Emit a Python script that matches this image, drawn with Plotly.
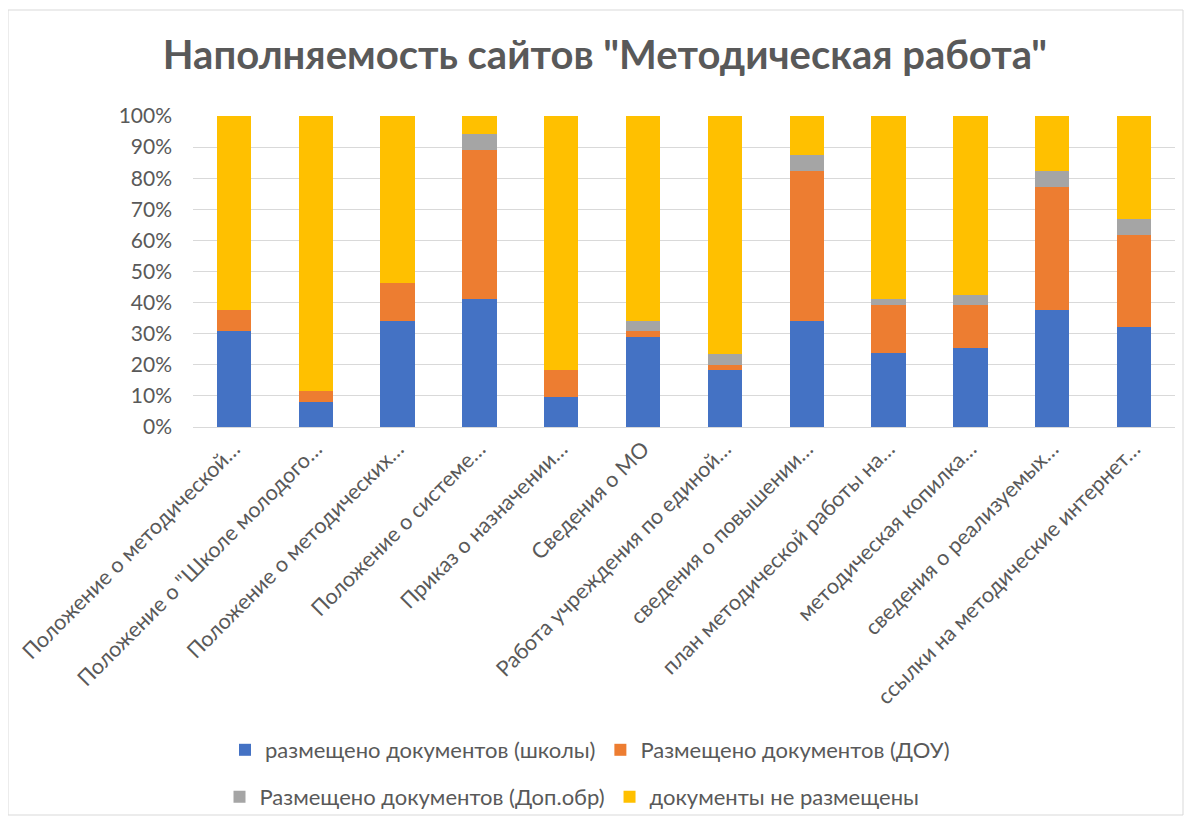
import plotly.graph_objects as go

categories = [
    "Положение о методической…",
    "Положение о \"Школе молодого…",
    "Положение о методических…",
    "Положение о системе…",
    "Приказ о назначении…",
    "Сведения о МО",
    "Работа учреждения по единой…",
    "сведения о повышении…",
    "план методической работы на…",
    "методическая копилка…",
    "сведения о реализуемых…",
    "ссылки на методические интернет…",
]

schools = [31.0, 8.1, 34.0, 41.1, 9.6, 29.0, 18.4, 34.0, 23.7, 25.5, 37.5, 32.2]
dou = [6.5, 3.5, 12.2, 48.1, 8.8, 1.8, 1.5, 48.4, 15.5, 13.7, 39.8, 29.5]
dop = [0.0, 0.0, 0.0, 5.1, 0.0, 3.2, 3.7, 5.2, 1.9, 3.4, 5.1, 5.2]
not_placed = [62.5, 88.4, 53.8, 5.7, 81.6, 66.0, 76.4, 12.4, 58.9, 57.4, 17.6, 33.1]

series_names = [
    "размещено документов (школы)",
    "Размещено документов (ДОУ)",
    "Размещено документов (Доп.обр)",
    "документы не размещены",
]
colors = ["#4472C4", "#ED7D31", "#A5A5A5", "#FFC000"]
legend_ids = ["legend", "legend", "legend2", "legend2"]

FONT = "Lato"
TXT = "#595959"

fig = go.Figure()
for name, vals, col, lg in zip(series_names, [schools, dou, dop, not_placed], colors, legend_ids):
    fig.add_trace(go.Bar(
        x=categories, y=vals, name=name,
        marker=dict(color=col, line=dict(width=0)),
        legend=lg,
    ))

# page has an 8px body margin; work in page pixels and convert
OFF = 8
W, H = 1192 - OFF, 820 - OFF
PL, PR, PT, PB = 193, 1175, 116, 427  # plot area in page pixels
L, T = PL - OFF, PT - OFF
R = W - (PR - OFF)
B = H - (PB - OFF)
pw, ph = W - L - R, H - T - B

def px_x(px):
    return (px - OFF - L) / pw

def px_y(py):
    return (H - B - (py - OFF)) / ph

fig.update_layout(
    width=W, height=H,
    barmode="stack",
    barnorm="percent",
    bargap=0.58,
    paper_bgcolor="white",
    plot_bgcolor="white",
    margin=dict(l=L, r=R, t=T, b=B, autoexpand=False),
    font=dict(family=FONT, color=TXT, size=18),
    title=dict(
        text="<b>Наполняемость сайтов \"Методическая работа\"</b>",
        x=(605 - OFF) / W, xanchor="center",
        y=1 - (55 - OFF) / H, yanchor="middle",
        font=dict(family=FONT, size=40, color=TXT),
    ),
    xaxis=dict(
        tickangle=-45,
        tickfont=dict(family=FONT, size=21.5, color=TXT),
        showgrid=False,
        showline=True, linecolor="#D9D9D9", linewidth=1,
        ticks="",
    ),
    yaxis=dict(
        range=[0, 100],
        tickvals=[0, 10, 20, 30, 40, 50, 60, 70, 80, 90, 100],
        ticktext=["0%", "10%", "20%", "30%", "40%", "50%", "60%", "70%", "80%", "90%", "100%"],
        tickfont=dict(family=FONT, size=21, color=TXT),
        showgrid=True, gridcolor="#D9D9D9", gridwidth=1,
        zeroline=False,
        ticks="", ticklen=0,
        ticklabelstandoff=20,
    ),
    legend=dict(
        orientation="h",
        x=px_x(590), xanchor="center",
        y=px_y(750), yanchor="middle",
        font=dict(family=FONT, size=22, color=TXT),
        itemwidth=30,
        bgcolor="rgba(0,0,0,0)",
        traceorder="normal",
    ),
    legend2=dict(
        orientation="h",
        x=px_x(572), xanchor="center",
        y=px_y(797), yanchor="middle",
        font=dict(family=FONT, size=22, color=TXT),
        itemwidth=30,
        bgcolor="rgba(0,0,0,0)",
        traceorder="normal",
    ),
    shapes=[
        dict(
            type="rect", xref="paper", yref="paper",
            x0=px_x(8), x1=px_x(1183),
            y0=px_y(815), y1=px_y(10),
            line=dict(color="#D9D9D9", width=1),
            fillcolor="rgba(0,0,0,0)", layer="below",
        )
    ],
)

fig.write_html("out.html")
